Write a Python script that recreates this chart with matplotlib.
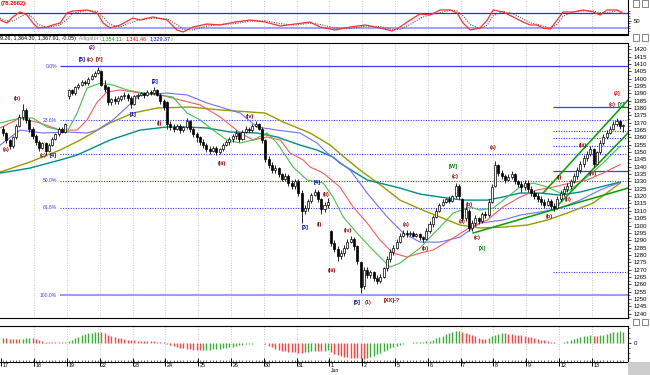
import matplotlib
matplotlib.use("Agg")
import matplotlib.pyplot as plt
from matplotlib.ticker import FixedLocator, MultipleLocator, NullFormatter, NullLocator
from matplotlib.patches import Rectangle

# ---------------- data ----------------
day_labels = ["17", "18", "19", "22", "23", "24", "25", "26", "30", "31",
              "1", "2", "5", "6", "7", "8", "9", "12", "13"]
bars_per_day = 10

opens = [1366, 1363, 1358, 1354, 1360, 1368, 1374, 1379, 1372, 1366,
         1361, 1357, 1353, 1356, 1351, 1355, 1359, 1362, 1366, 1364,
         1388, 1392, 1390, 1394, 1396, 1398, 1397, 1400, 1402, 1404,
         1405, 1396, 1394, 1384, 1386, 1385, 1386, 1388, 1389, 1387,
         1383, 1388, 1389, 1390, 1389, 1391, 1390, 1392, 1389, 1385,
         1384, 1369, 1367, 1366, 1368, 1365, 1367, 1371, 1366, 1362,
         1360, 1357, 1355, 1352, 1351, 1353, 1350, 1352, 1355, 1357,
         1359, 1361, 1363, 1359, 1364, 1366, 1365, 1368, 1369, 1366,
         1358, 1345, 1341, 1338, 1339, 1335, 1332, 1334, 1329, 1327,
         1330, 1322, 1310, 1312, 1317, 1321, 1323, 1318, 1311, 1314,
         1296, 1288, 1284, 1279, 1281, 1285, 1289, 1291, 1286, 1275,
         1259, 1270, 1266, 1268, 1264, 1262, 1265, 1271, 1277, 1282,
         1285, 1289, 1293, 1295, 1294, 1295, 1293, 1294, 1292, 1291,
         1296, 1301, 1306, 1310, 1314, 1316, 1318, 1317, 1320, 1327,
         1318, 1305, 1310, 1298, 1302, 1305, 1303, 1308, 1307, 1316,
         1327, 1341, 1336, 1334, 1331, 1333, 1335, 1330, 1328, 1326,
         1329, 1325, 1322, 1320, 1318, 1316, 1314, 1317, 1313, 1312,
         1318, 1322, 1325, 1327, 1330, 1334, 1338, 1342, 1346, 1349,
         1352, 1342, 1350, 1356, 1360, 1363, 1366, 1369, 1371, 1368]
highs = [1368, 1364, 1359, 1361, 1369, 1376, 1383, 1380, 1373, 1367,
         1362, 1358, 1357, 1357, 1356, 1360, 1363, 1367, 1367, 1370,
         1393, 1393, 1395, 1397, 1399, 1399, 1401, 1403, 1405, 1408,
         1406, 1399, 1395, 1387, 1388, 1388, 1389, 1391, 1390, 1388,
         1389, 1390, 1391, 1391, 1392, 1392, 1394, 1393, 1390, 1386,
         1385, 1371, 1369, 1369, 1369, 1368, 1373, 1372, 1367, 1364,
         1361, 1359, 1356, 1354, 1354, 1354, 1353, 1356, 1358, 1360,
         1362, 1365, 1364, 1365, 1368, 1367, 1369, 1371, 1370, 1367,
         1359, 1347, 1343, 1341, 1340, 1336, 1336, 1335, 1331, 1332,
         1332, 1324, 1314, 1318, 1322, 1325, 1324, 1319, 1316, 1319,
         1297, 1290, 1286, 1283, 1287, 1291, 1293, 1292, 1287, 1276,
         1272, 1272, 1270, 1269, 1266, 1267, 1272, 1279, 1284, 1287,
         1291, 1295, 1297, 1297, 1296, 1296, 1295, 1295, 1293, 1298,
         1303, 1307, 1312, 1315, 1318, 1319, 1320, 1321, 1329, 1328,
         1319, 1313, 1311, 1304, 1307, 1306, 1309, 1310, 1318, 1328,
         1344, 1342, 1338, 1335, 1335, 1337, 1336, 1331, 1330, 1331,
         1331, 1327, 1324, 1322, 1320, 1318, 1319, 1318, 1315, 1320,
         1324, 1327, 1329, 1332, 1336, 1340, 1344, 1348, 1351, 1354,
         1353, 1351, 1358, 1362, 1365, 1368, 1371, 1373, 1372, 1369]
lows = [1361, 1356, 1352, 1353, 1359, 1367, 1372, 1370, 1364, 1359,
        1355, 1351, 1352, 1348, 1350, 1354, 1358, 1361, 1363, 1363,
        1386, 1389, 1389, 1393, 1395, 1396, 1396, 1399, 1401, 1403,
        1395, 1391, 1382, 1382, 1383, 1383, 1385, 1386, 1385, 1380,
        1382, 1386, 1388, 1387, 1388, 1389, 1389, 1388, 1383, 1379,
        1366, 1365, 1364, 1365, 1363, 1364, 1366, 1364, 1360, 1357,
        1355, 1353, 1350, 1349, 1350, 1348, 1349, 1351, 1354, 1355,
        1357, 1359, 1357, 1358, 1363, 1364, 1364, 1367, 1365, 1356,
        1343, 1339, 1336, 1336, 1333, 1330, 1330, 1327, 1325, 1325,
        1320, 1302, 1308, 1310, 1315, 1320, 1316, 1308, 1309, 1312,
        1286, 1282, 1276, 1277, 1279, 1284, 1288, 1283, 1274, 1254,
        1257, 1264, 1264, 1262, 1260, 1261, 1264, 1269, 1275, 1280,
        1284, 1288, 1292, 1292, 1293, 1292, 1292, 1290, 1289, 1290,
        1295, 1299, 1305, 1309, 1313, 1315, 1315, 1316, 1319, 1318,
        1303, 1303, 1296, 1296, 1300, 1301, 1302, 1305, 1306, 1315,
        1326, 1334, 1332, 1329, 1330, 1332, 1328, 1326, 1323, 1324,
        1323, 1320, 1318, 1316, 1314, 1312, 1313, 1311, 1310, 1311,
        1317, 1320, 1323, 1325, 1329, 1332, 1336, 1340, 1344, 1347,
        1340, 1341, 1349, 1355, 1359, 1362, 1365, 1368, 1366, 1364]
closes = [1363, 1358, 1354, 1360, 1368, 1374, 1379, 1372, 1366, 1361,
          1357, 1353, 1356, 1351, 1355, 1359, 1362, 1366, 1364, 1369,
          1392, 1390, 1394, 1396, 1398, 1397, 1400, 1402, 1404, 1406,
          1396, 1393, 1384, 1386, 1385, 1387, 1388, 1389, 1387, 1383,
          1388, 1389, 1390, 1389, 1391, 1390, 1392, 1389, 1385, 1381,
          1369, 1367, 1366, 1368, 1365, 1367, 1371, 1366, 1362, 1360,
          1357, 1355, 1352, 1351, 1353, 1350, 1352, 1355, 1357, 1359,
          1361, 1363, 1359, 1364, 1366, 1365, 1368, 1369, 1366, 1358,
          1345, 1341, 1338, 1339, 1335, 1332, 1334, 1329, 1327, 1330,
          1322, 1310, 1312, 1317, 1321, 1323, 1318, 1311, 1314, 1316,
          1288, 1284, 1279, 1281, 1285, 1289, 1291, 1286, 1276, 1258,
          1270, 1266, 1268, 1264, 1262, 1265, 1271, 1277, 1282, 1285,
          1289, 1293, 1295, 1294, 1295, 1293, 1294, 1292, 1291, 1296,
          1301, 1306, 1310, 1314, 1316, 1318, 1317, 1320, 1327, 1320,
          1305, 1311, 1298, 1302, 1305, 1303, 1308, 1307, 1316, 1326,
          1341, 1336, 1334, 1331, 1333, 1335, 1330, 1328, 1326, 1329,
          1325, 1322, 1320, 1318, 1316, 1314, 1317, 1313, 1312, 1318,
          1322, 1325, 1327, 1330, 1334, 1338, 1342, 1346, 1349, 1352,
          1342, 1350, 1356, 1360, 1363, 1366, 1369, 1371, 1368, 1368]

# Awesome-oscillator style histogram
ao_values = [5, 4.5, 4, 4, 3.5, 3.8, 4.2, 4.8, 5.2, 4.6,
             3.5, 2.5, 1.5, 0.8, 0.6, 0.5, 0.7, 0.5, 0.8, 1.2,
             2, 3, 4.5, 6, 7.5, 8.5, 9.5, 10, 10.5, 11,
             10.5, 9.5, 8, 7, 6, 5, 4.3, 3.8, 3.2, 2.8,
             2.5, 2.2, 2, 1.8, 1.6, 1.8, 1.5, 1.2, 0.8, 0.5,
             -1, -2, -3, -4, -5, -5.5, -6, -6.5, -7, -7.2,
             -7.4, -7.2, -7, -6.8, -6.5, -6.2, -5.9, -5.5, -5, -4.5,
             -4, -3.2, -2.5, -2, -1.5, -1, -0.8, -0.5, -0.4, -0.6,
             -1.5, -3, -4.5, -6, -7, -8, -8.5, -9, -9.3, -9.5,
             -9.8, -10, -9.5, -9, -8.5, -8, -8.2, -8.5, -8, -7.5,
             -9, -11, -12.5, -13.5, -14, -14.5, -14.8, -15, -15.5, -16,
             -16.2, -15.5, -14.5, -13, -11.5, -10, -8.5, -7, -5.5, -4,
             -3, -2, -1.2, -0.5, 0, 0.3, 0.5, 0.8, 1, 1.3,
             2, 3, 4.5, 6, 7, 8.5, 9.5, 10.5, 11.5, 11.8,
             11, 10, 8.8, 7.5, 6.3, 5.2, 4.2, 3.4, 4.8, 6.5,
             8, 9, 9.5, 9.3, 9, 8.6, 8.2, 7.8, 7.3, 6.8,
             6.2, 5.5, 4.8, 4, 3.2, 2.5, 1.8, 1.2, 0.6, 0.2,
             0.1, 0.5, 1.5, 2.5, 3.5, 4.5, 5.5, 6.5, 7, 7.5,
             7.2, 6.9, 7.5, 8.2, 9, 9.8, 10.5, 11, 11.5, 11.2]

# moving averages (bar position, price)
olive_x = [-0.9, 8.2, 17.4, 23.5, 32.6, 39.6, 47.0, 57.0, 66.2, 75.3, 79.9, 85.4, 93.6, 99.7,
           104.3, 108.8, 115.9, 121.0, 127.1, 133.2, 139.3, 145.4, 152.4, 159.8, 165.9,
           172.0, 179.9, 188.1]
olive_ma = [1336.4, 1343.2, 1351.4, 1358.2, 1369.8, 1376.6, 1380.0, 1380.7, 1378.7, 1377.3,
            1376.6, 1370.5, 1363.0, 1354.8, 1346.0, 1337.8, 1326.2, 1317.3, 1311.2, 1305.8,
            1300.3, 1298.3, 1298.9, 1300.3, 1303.7, 1308.5, 1315.3, 1328.9]
teal_x = [-0.9, 8.2, 17.4, 22.6, 32.6, 41.8, 50.0, 56.1, 62.2, 69.2, 77.4, 83.5, 90.5, 95.7,
          100.6, 102.7, 111.0, 121.0, 127.1, 133.2, 140.2, 147.6, 152.4, 157.6, 163.7, 169.8,
          175.9, 182.0, 188.1]
teal_ma = [1335.7, 1339.1, 1344.6, 1348.0, 1358.2, 1365.0, 1367.1, 1367.1, 1366.4, 1363.7,
           1363.0, 1360.3, 1354.8, 1351.4, 1346.6, 1342.5, 1331.0, 1325.5, 1321.4, 1319.4,
           1317.3, 1317.3, 1319.4, 1322.1, 1322.1, 1320.7, 1322.8, 1326.2, 1329.6]
jaw_x = [-0.9, 5.2, 12.2, 19.5, 25.6, 28.7, 33.5, 37.8, 41.8, 50.0, 56.1, 62.2, 66.2, 72.3,
         77.4, 83.5, 90.5, 95.7, 98.8, 105.8, 111.0, 117.1, 122.0, 127.1, 133.2, 139.3, 145.4,
         152.4, 157.6, 163.7, 169.8, 175.9, 182.0, 188.1]
jaw = [1354.8, 1365.0, 1363.0, 1363.7, 1363.0, 1365.0, 1371.9, 1380.7, 1388.9, 1390.2, 1388.9,
       1383.4, 1380.7, 1376.6, 1367.1, 1365.0, 1363.0, 1356.2, 1349.4, 1337.8, 1322.1, 1305.8,
       1294.9, 1288.7, 1288.7, 1292.1, 1301.7, 1303.7, 1307.1, 1309.2, 1311.9, 1317.3, 1324.2,
       1329.4]
teeth_x = [-0.9, 5.2, 11.3, 17.4, 22.6, 25.6, 28.7, 31.7, 35.7, 41.8, 47.9, 54.0, 60.1, 66.2,
           72.3, 76.2, 80.5, 84.5, 87.5, 91.5, 93.6, 97.6, 102.7, 106.7, 111.0, 114.9, 118.9,
           123.2, 127.1, 131.1, 137.2, 142.4, 147.6, 152.4, 157.6, 162.8, 167.7, 172.9, 178.0,
           182.9, 188.1]
teeth = [1366.4, 1373.2, 1369.8, 1365.0, 1365.0, 1371.9, 1384.1, 1390.9, 1392.3, 1390.2,
         1388.9, 1385.5, 1382.1, 1373.9, 1363.0, 1358.2, 1360.3, 1358.2, 1349.4, 1344.6,
         1339.8, 1335.7, 1326.2, 1312.6, 1301.7, 1290.1, 1281.2, 1278.5, 1281.2, 1283.3,
         1291.5, 1298.9, 1303.7, 1312.6, 1319.4, 1324.2, 1326.2, 1328.9, 1331.0, 1335.7, 1341.5]
lips_x = [-0.9, 5.2, 9.1, 13.4, 19.5, 22.6, 25.6, 29.6, 33.5, 37.8, 42.7, 47.9, 51.8, 56.1,
          60.1, 64.0, 68.3, 72.3, 76.2, 80.5, 83.5, 86.6, 88.4, 92.7, 97.6, 100.6, 103.7,
          107.9, 111.9, 114.9, 118.0, 121.0, 125.0, 127.1, 130.2, 133.2, 137.2, 142.4, 145.4,
          149.4, 153.7, 157.6, 161.6, 165.9, 169.8, 172.9, 178.0, 182.9, 188.1]
lips = [1369.8, 1373.2, 1373.2, 1367.1, 1363.7, 1376.6, 1393.6, 1397.0, 1395.7, 1392.3,
        1390.2, 1388.9, 1387.5, 1376.6, 1371.9, 1365.0, 1358.2, 1356.2, 1358.2, 1363.0,
        1356.2, 1346.0, 1339.8, 1331.0, 1328.9, 1319.4, 1305.8, 1294.9, 1285.3, 1278.5,
        1271.7, 1274.4, 1281.2, 1284.6, 1292.1, 1298.9, 1308.5, 1312.6, 1310.5, 1311.9,
        1319.4, 1326.2, 1328.9, 1326.2, 1322.1, 1324.2, 1333.0, 1342.5, 1354.1]

# Fibonacci retracement levels
fib_labels = ["0.0%", "23.6%", "38.2%", "50.0%", "61.8%", "100.0%"]
fib_levels = [1408.6, 1371.8, 1349.0, 1330.6, 1312.2, 1252.6]
fib_start = 17.4
ext_levels = [1380.9, 1364.5, 1359.6, 1354.1, 1337.3, 1268.3]
ext_solid = [True, False, False, False, True, False]
ext_start = 167.7

# trend / channel lines: (x0, p0, x1, p1)
trend_lines = [(143.3, 1294.9, 190.5, 1325.5),
               (164.6, 1322.1, 190.5, 1385.5),
               (167.7, 1310.5, 190.5, 1363.0)]

# wave labels: (bar, price, text, colour)
DR, BL, GR, PU, RD = "#990000", "#0000aa", "#008800", "#800080", "#ff0000"
wave_labels = [
    (0.9, 1352.1, "(a)", DR), (4.3, 1386.8, "(b)", DR),
    (12.2, 1348.0, "(c)", DR), (15.2, 1348.0, "[4]", BL),
    (27.1, 1421.0, "(2)", PU),
    (24.1, 1413.4, "[5]", BL), (26.6, 1413.4, "(c)", DR), (29.4, 1413.4, "[Y]", DR),
    (39.6, 1375.3, "[1]", BL), (46.3, 1398.4, "[2]", BL), (47.6, 1369.8, "(i)", DR),
    (66.8, 1342.5, "(iii)", DR), (75.3, 1373.9, "(iv)", DR),
    (92.1, 1298.3, "[3]", BL), (95.7, 1329.6, "[4]", BL),
    (96.6, 1301.0, "(i)", DR), (98.5, 1321.4, "(ii)", DR),
    (100.3, 1269.6, "(iii)", DR), (105.2, 1296.9, "(iv)", DR),
    (107.9, 1247.8, "[5]", BL), (111.3, 1247.8, "(1)", RD), (118.6, 1249.2, "[XX]-?", DR),
    (122.9, 1301.0, "(a)", DR), (128.7, 1284.6, "(b)", DR),
    (137.2, 1340.5, "[W]", GR), (137.8, 1333.7, "(c)", DR),
    (139.9, 1302.4, "(a)", DR), (142.1, 1314.6, "(b)", DR), (144.5, 1291.5, "(c)", DR),
    (146.0, 1284.6, "[X]", GR), (149.4, 1352.8, "(a)", DR),
    (166.5, 1305.8, "(b)", DR), (169.5, 1333.0, "(i)", DR), (172.3, 1318.0, "(ii)", DR),
    (176.8, 1354.8, "(iii)", DR), (179.9, 1335.7, "(iv)", DR),
    (187.2, 1390.2, "(2)", RD), (185.7, 1382.7, "(c)", RD), (188.4, 1382.7, "[Y]", GR),
]

# top oscillator (stochastic)
osc_x = [-0.9, 1.2, 3.0, 5.2, 7.3, 9.1, 10.7, 13.4, 15.2, 17.4, 19.5, 21.3, 25.6, 28.7, 30.5,
         32.6, 35.7, 39.6, 41.8, 45.7, 50.0, 53.0, 54.9, 57.9, 62.2, 66.2, 70.7, 75.3, 79.9,
         84.5, 89.0, 93.6, 96.6, 101.2, 105.8, 110.4, 114.9, 118.6, 121.0, 124.1, 127.1,
         130.2, 133.2, 136.3, 138.4, 140.2, 142.4, 145.4, 147.6, 149.4, 152.4, 155.5, 158.5,
         160.7, 162.8, 164.6, 166.8, 168.9, 170.7, 173.8, 176.8, 179.9, 182.0, 184.1, 187.2,
         189.0]
osc_k = [52.8, 40.7, 65.0, 85.3, 73.1, 40.7, 20.4, 24.5, 32.6, 40.7, 81.2, 89.3, 93.4, 81.2,
         40.7, 20.4, 32.6, 60.9, 52.8, 65.0, 52.8, 12.3, 4.2, 24.5, 36.6, 32.6, 44.7, 52.8,
         44.7, 28.5, 36.6, 44.7, 24.5, 12.3, 24.5, 32.6, 20.4, 8.3, 24.5, 52.8, 77.2, 73.1,
         93.4, 93.4, 81.2, 40.7, 12.3, 20.4, 52.8, 93.4, 85.3, 65.0, 44.7, 32.6, 32.6, 20.4,
         16.4, 52.8, 85.3, 85.3, 93.4, 85.3, 73.1, 93.4, 93.4, 78.3]
osc_d = [60, 50, 48, 65, 80, 62, 35, 22, 27, 33, 55, 80, 92, 88, 65, 35, 25, 45, 55, 60, 58,
         35, 15, 12, 28, 35, 38, 48, 50, 38, 32, 40, 35, 20, 18, 28, 26, 15, 14, 35, 60, 75,
         82, 92, 90, 70, 35, 18, 32, 70, 88, 78, 58, 42, 35, 28, 20, 35, 68, 85, 90, 90, 82,
         82, 90, 85]

# ---------------- figure ----------------
W, H = 650, 375
fig = plt.figure(figsize=(W / 100, H / 100), dpi=100)
fig.patch.set_facecolor("white")
FONT = "Liberation Sans"


def ax_at(x0, y0, x1, y1):
    return fig.add_axes([x0 / W, 1 - y1 / H, (x1 - x0) / W, (y1 - y0) / H])


XL = (-0.91, 190.5)
osc_ax = ax_at(0, 0, 628, 34)
main_ax = ax_at(0, 43, 628, 318)
ao_ax = ax_at(0, 326, 628, 361.7)

n = len(closes)
xs = list(range(n))
day_bounds = [d * bars_per_day - 0.5 for d in range(len(day_labels))]

for ax in (osc_ax, main_ax, ao_ax):
    ax.set_xlim(*XL)
    ax.set_facecolor("white")
    for b in day_bounds[1:]:
        ax.axvline(b, color="#b5b5b5", lw=0.6, ls=(0, (1, 2)), zorder=0)
    ax.spines["left"].set_visible(False)
    for s in ("right", "top", "bottom"):
        ax.spines[s].set_color("black")
        ax.spines[s].set_linewidth(0.8)
    ax.tick_params(axis="y", left=False, right=True, labelleft=False, labelright=True,
                   direction="out", length=2.5, width=0.5, labelsize=4.3, pad=1.5)
    ax.tick_params(axis="y", which="minor", left=False, right=True, direction="out",
                   length=1.5, width=0.4)
    for lab in ax.get_yticklabels():
        lab.set_fontfamily(FONT)

# ---- top oscillator ----
osc_ax.set_ylim(-3.9, 133.9)
osc_ax.spines["top"].set_visible(False)
osc_ax.axhline(80, color="#2233cc", lw=0.9)
osc_ax.axhline(20, color="#9fa0ff", lw=1.4)
osc_ax.plot(osc_x, osc_d, color="#555555", lw=0.8, ls=(0, (1, 1.2)))
osc_ax.plot(osc_x, osc_k, color="#ff3030", lw=0.9)
osc_ax.set_xticks([])
osc_ax.yaxis.set_major_locator(FixedLocator([50]))
osc_ax.yaxis.set_minor_locator(FixedLocator([10, 20, 30, 40, 60, 70, 80, 90]))
osc_ax.set_yticklabels(["50"], fontfamily=FONT, fontsize=4.3)
fig.text(0.5 / W, 1 - 4 / H, "(78.2662)", color="#ff0000", fontsize=4.2, fontfamily=FONT,
         fontweight="bold", va="center", ha="left")

# ---- main price panel ----
main_ax.set_ylim(1237.0, 1424.3)
main_ax.set_xticks([])
main_ax.yaxis.set_major_locator(MultipleLocator(5))
main_ax.yaxis.set_minor_locator(MultipleLocator(2.5))
main_ax.yaxis.set_major_formatter(plt.FuncFormatter(lambda v, p: "%d" % v))
for lab in main_ax.get_yticklabels():
    lab.set_fontfamily(FONT)

# fib lines
for lab, lev in zip(fib_labels, fib_levels):
    if lab in ("0.0%",):
        main_ax.hlines(lev, fib_start, XL[1], color="#3a3aff", lw=0.9, zorder=1)
    elif lab == "100.0%":
        main_ax.hlines(lev, fib_start, XL[1], color="#9c9cff", lw=1.5, zorder=1)
    else:
        main_ax.hlines(lev, fib_start, XL[1], color="#3a3aff", lw=0.8, ls=(0, (1, 1.3)),
                       zorder=1)
    if lab != "38.2%":
        main_ax.text(fib_start - 0.9, lev, lab, color="#3a3aff", fontsize=3.6, ha="right",
                     va="center", fontfamily=FONT)
for lev, solid in zip(ext_levels, ext_solid):
    if solid:
        main_ax.hlines(lev, ext_start, XL[1], color="#3a3aff", lw=0.9, zorder=1)
    else:
        main_ax.hlines(lev, ext_start, XL[1], color="#3a3aff", lw=0.8, ls=(0, (1, 1.3)),
                       zorder=1)

# moving averages / alligator
main_ax.plot(olive_x, olive_ma, color="#9a9a00", lw=1.0, zorder=2)
main_ax.plot(teal_x, teal_ma, color="#008b8b", lw=1.0, zorder=2)
main_ax.plot(jaw_x, jaw, color="#6f6fff", lw=0.8, zorder=2)
main_ax.plot(teeth_x, teeth, color="#ff5a5a", lw=0.8, zorder=2)
main_ax.plot(lips_x, lips, color="#44c044", lw=0.8, zorder=2)

for x0, p0, x1, p1 in trend_lines:
    main_ax.plot([x0, x1], [p0, p1], color="#00a000", lw=1.1, zorder=2)

# candles
main_ax.vlines(xs, lows, highs, color="black", lw=0.6, zorder=3)
bottoms = [min(o, c) for o, c in zip(opens, closes)]
heights = [max(abs(c - o), 0.35) for o, c in zip(opens, closes)]
faces = ["white" if c >= o else "black" for o, c in zip(opens, closes)]
main_ax.bar(xs, heights, bottom=bottoms, width=0.62, color=faces, edgecolor="black",
            linewidth=0.5, zorder=4)

for bx, py, txt, col in wave_labels:
    main_ax.text(bx, py, txt, color=col, fontsize=4.0, fontweight="bold", ha="center",
                 va="center", fontfamily=FONT, zorder=5)

# ---- AO histogram ----
ao_ax.set_ylim(-19, 16.7)
ao_cols = []
for i, v in enumerate(ao_values):
    prev = ao_values[i - 1] if i > 0 else v
    ao_cols.append("#35b035" if v >= prev else "#ff4444")
ao_ax.vlines(xs, 0, ao_values, colors=ao_cols, lw=1.0)
ao_ax.yaxis.set_major_locator(FixedLocator([0]))
ao_ax.yaxis.set_minor_locator(FixedLocator([-15, -10, -5, 5, 10, 15]))
ao_ax.set_yticklabels(["0"], fontfamily=FONT, fontsize=4.3)
ao_ax.xaxis.set_major_locator(FixedLocator(day_bounds))
ao_ax.xaxis.set_minor_locator(FixedLocator(xs))
ao_ax.xaxis.set_major_formatter(NullFormatter())
ao_ax.tick_params(axis="x", which="major", direction="inout", length=6, width=0.7,
                  bottom=True, top=False)
ao_ax.tick_params(axis="x", which="minor", direction="in", length=1.6, width=0.4,
                  bottom=True, top=False)
for b, lab in zip(day_bounds, day_labels):
    ao_ax.text(b + 0.45, -0.12, lab, transform=ao_ax.get_xaxis_transform(), fontsize=3.9,
               fontfamily=FONT, ha="left", va="center")
    if lab == "1":
        ao_ax.text(b + 0.45, -0.26, "Jun", transform=ao_ax.get_xaxis_transform(),
                   fontsize=3.6, fontfamily=FONT, ha="left", va="center")

# separators / decorations
fig.add_artist(plt.Line2D([0, 628 / W], [1 - 35 / H, 1 - 35 / H], color="black", lw=0.8))
fig.add_artist(Rectangle((628 / W, 0), 22 / W, 13 / H, facecolor="#cccccc",
                         edgecolor="none"))
for yy in (3.5, 37.5, 322.0):
    for xx in (632.5, 641.5):
        fig.add_artist(Rectangle((xx / W, 1 - (yy + 3) / H), 6 / W, 6 / H, facecolor="white",
                                 edgecolor="#555555", lw=0.5))

# header line
header_parts = [("9.26, 1,364.30, 1,367.91, -0.05)", "black"), ("  Alligator (", "#888888"),
                ("1,354.11", "#00aa00"), (", ", "#888888"), ("1,341.46", "#ff0000"),
                (", ", "#888888"), ("1,329.37", "#0000ff"), (")", "#888888")]
renderer = fig.canvas.get_renderer()
xpos = 0.0
for s, col in header_parts:
    t = fig.text(xpos / W, 1 - 38.6 / H, s, color=col, fontsize=3.9, fontfamily=FONT,
                 ha="left", va="center")
    xpos += t.get_window_extent(renderer).width

fig.savefig("out.png", dpi=100, facecolor="white")
